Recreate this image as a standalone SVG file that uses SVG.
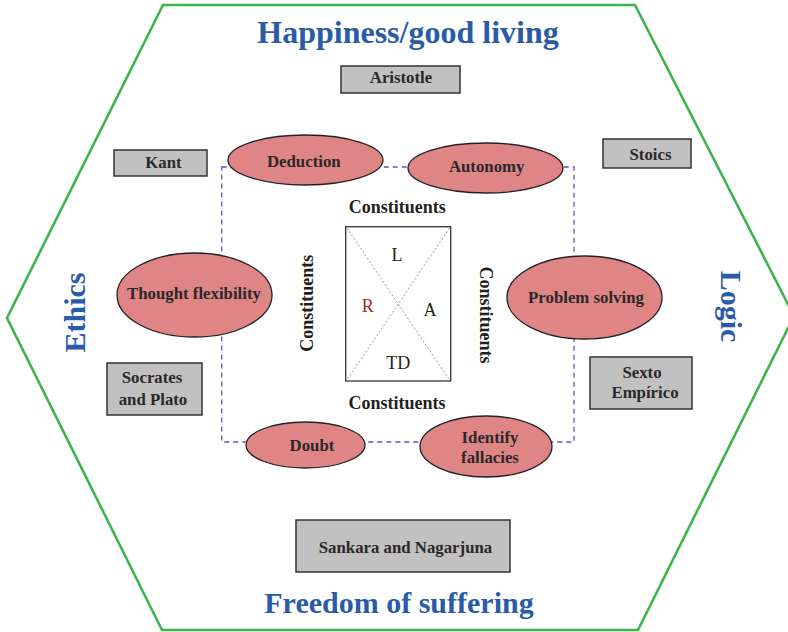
<svg xmlns="http://www.w3.org/2000/svg" width="788" height="632" viewBox="0 0 788 632">
<style>
.hex{fill:#fff;stroke:#3cb54a;stroke-width:2.6;stroke-linejoin:miter}
.title{font-family:"Liberation Serif","Times New Roman",serif;font-weight:bold;fill:#2a5ba8;font-size:30px;text-anchor:middle}
.ell{fill:#df8585;stroke:#222;stroke-width:1.3}
.box{fill:#c0c1c0;stroke:#333;stroke-width:1.5}
.lbl{font-family:"Liberation Serif","Times New Roman",serif;font-weight:600;fill:#2b2829;font-size:16.8px;text-anchor:middle}
.sym{font-family:"Liberation Serif","Times New Roman",serif;font-weight:normal;fill:#231f20;font-size:18px;text-anchor:middle}
.con{font-family:"Liberation Serif","Times New Roman",serif;font-weight:bold;fill:#231f20;font-size:18px;text-anchor:middle}
.dash{fill:none;stroke:#6b4fbb;stroke-width:1.3;stroke-dasharray:5 4}
.diag{stroke:#9a9a9a;stroke-width:1;stroke-dasharray:2 2}
</style>
<rect width="788" height="632" fill="#fff"/>
<polygon class="hex" points="163,5 635,5 794,316 638,630 162,630 7,318"/>

<g id="connectors">
<rect class="dash" x="221.7" y="167" width="352.3" height="275"/>
</g>

<g id="titles">
<text class="title" x="408" y="43" style="font-size:32px">Happiness/good living</text>
<text class="title" x="399" y="613">Freedom of suffering</text>
<text class="title" transform="translate(85,312.5) rotate(-90)">Ethics</text>
<text class="title" transform="translate(721,306.5) rotate(90)">Logic</text>
</g>

<g id="center">
<rect x="345.7" y="226.7" width="105" height="154.3" fill="#fff" stroke="#333" stroke-width="1.3"/>
<line class="diag" x1="347" y1="228" x2="449.5" y2="380"/>
<line class="diag" x1="449.5" y1="228" x2="347" y2="380"/>
<text class="sym" x="397" y="261">L</text>
<text class="sym" x="367.7" y="312.3" style="fill:#a5282a">R</text>
<text class="sym" x="430" y="315.7">A</text>
<text class="sym" x="398.3" y="369">TD</text>
</g>

<g id="constituents">
<text class="con" x="397.3" y="212.7">Constituents</text>
<text class="con" x="397" y="409">Constituents</text>
<text class="con" transform="translate(313,303.3) rotate(-90)">Constituents</text>
<text class="con" transform="translate(480,315) rotate(90)">Constituents</text>
</g>

<g id="deduction">
<ellipse class="ell" cx="305.5" cy="160" rx="77.5" ry="25"/>
<text class="lbl" x="303.8" y="166.7">Deduction</text>
</g>
<g id="autonomy">
<ellipse class="ell" cx="485.5" cy="168" rx="77.5" ry="25"/>
<text class="lbl" x="486.7" y="171.7">Autonomy</text>
</g>
<g id="thought-flexibility">
<ellipse class="ell" cx="194.5" cy="295" rx="77.5" ry="42"/>
<text class="lbl" x="194" y="299">Thought flexibility</text>
</g>
<g id="problem-solving">
<ellipse class="ell" cx="584.5" cy="297.5" rx="77.5" ry="41.5"/>
<text class="lbl" x="586" y="303">Problem solving</text>
</g>
<g id="doubt">
<ellipse class="ell" cx="305.5" cy="445" rx="59.5" ry="23"/>
<text class="lbl" x="312" y="450.7">Doubt</text>
</g>
<g id="identify-fallacies">
<ellipse class="ell" cx="486" cy="446.5" rx="66" ry="30.5"/>
<text class="lbl" x="490" y="442.7">Identify</text>
<text class="lbl" x="490" y="463.3">fallacies</text>
</g>

<g id="aristotle">
<rect class="box" x="341" y="66" width="119" height="27"/>
<text class="lbl" x="401" y="83.3">Aristotle</text>
</g>
<g id="kant">
<rect class="box" x="114" y="150" width="93" height="26"/>
<text class="lbl" x="163.5" y="168.3">Kant</text>
</g>
<g id="stoics">
<rect class="box" x="603" y="139" width="88" height="29"/>
<text class="lbl" x="650.5" y="160">Stoics</text>
</g>
<g id="socrates-plato">
<rect class="box" x="107" y="363" width="95" height="52"/>
<text class="lbl" x="152" y="383.3">Socrates</text>
<text class="lbl" x="153" y="405">and Plato</text>
</g>
<g id="sexto-empirico">
<rect class="box" x="590" y="357" width="102" height="52"/>
<text class="lbl" x="642" y="378.3">Sexto</text>
<text class="lbl" x="645" y="398.3">Empírico</text>
</g>
<g id="sankara-nagarjuna">
<rect class="box" x="296" y="520" width="214" height="52"/>
<text class="lbl" x="405.5" y="553.3">Sankara and Nagarjuna</text>
</g>
</svg>
